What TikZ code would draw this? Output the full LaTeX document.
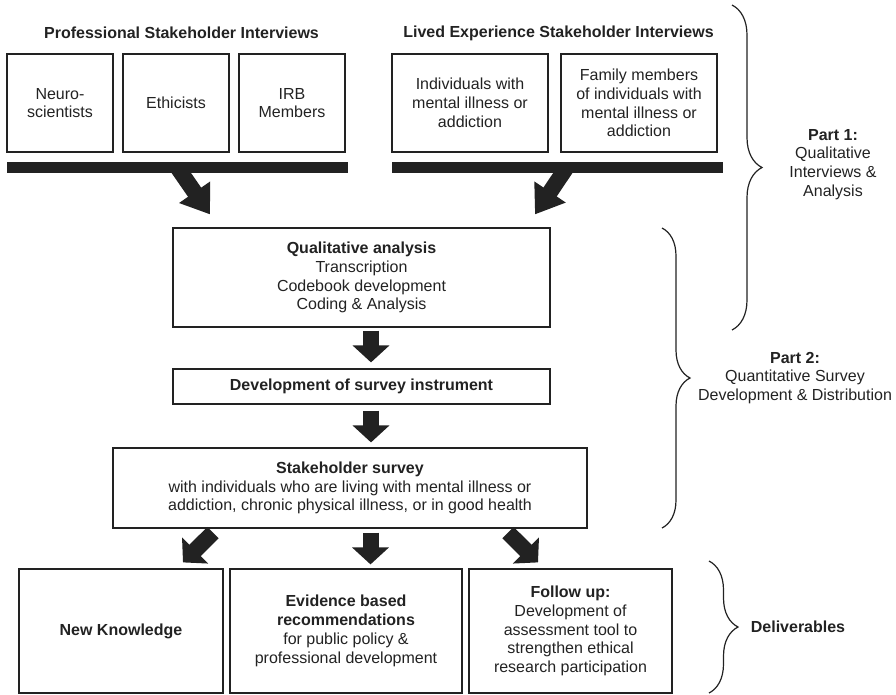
\documentclass[tikz,border=0pt]{standalone}
\usepackage{fontspec}
\setmainfont{Liberation Sans}
\usetikzlibrary{arrows.meta,decorations.pathreplacing}
\definecolor{ink}{HTML}{222222}

\begin{document}
\begin{tikzpicture}[x=1pt,y=-1pt,
		box/.style={draw=ink,line width=1.2pt,text=ink,align=center,inner sep=0pt,font=\fontsize{16}{18.8}\selectfont},
		label/.style={text=ink,align=center,inner sep=0pt,font=\fontsize{16}{18.8}\selectfont},
		bar/.style={fill=ink,inner sep=0pt,minimum height=11pt},
		fatarrow/.style={draw=ink,line width=16pt,-{Triangle[width=36pt,length=17pt]}},
		slantarrow/.style={draw=ink,line width=16pt,-{Triangle[width=36pt,length=27pt]}},
		partbrace/.style={draw=ink,line width=1.2pt,decorate,decoration={brace,amplitude=#1}}]
		\useasboundingbox (0,0) rectangle (896,694);
		
		\node[label,font=\fontsize{16}{18.8}\selectfont\bfseries] (protitle) at (181.5,33) {Professional Stakeholder Interviews};
		\node[label,font=\fontsize{16}{18.8}\selectfont\bfseries] (livtitle) at (558.5,33) {Lived Experience Stakeholder Interviews};
		\foreach \nm/\cx/\txt in {neuro/60/{Neuro-\\scientists}, ethic/176/{Ethicists}, irb/292/{IRB\\Members}}
			\node[box,minimum width=106pt,minimum height=98pt] (\nm) at (\cx,103) {\txt};
		\node[box,minimum width=156pt,minimum height=98pt] (indiv) at (470,103) {Individuals with\\mental illness or\\addiction};
		\node[box,minimum width=156pt,minimum height=98pt] (family) at (639,103) {Family members\\of individuals with\\mental illness or\\addiction};
		\node[bar,minimum width=341pt] (barP) at (177.5,167.5) {};
		\node[bar,minimum width=331pt] (barL) at (557.5,167.5) {};
		
		\node[box,minimum width=377pt,minimum height=99pt] (qual) at (361.5,277.5) {\textbf{Qualitative analysis}\\Transcription\\Codebook development\\Coding \& Analysis};
		\node[box,minimum width=377pt,minimum height=35pt] (instr) at (361.5,386.5) {\textbf{Development of survey instrument}};
		\node[box,minimum width=474pt,minimum height=80pt] (survey) at (350,488) {\textbf{Stakeholder survey}\\with individuals who are living with mental illness or\\addiction, chronic physical illness, or in good health};
		
		\node[box,minimum width=204pt,minimum height=124pt] (know) at (121,631) {\textbf{New Knowledge}};
		\node[box,minimum width=232pt,minimum height=124pt] (evid) at (346,631) {\textbf{Evidence based}\\\textbf{recommendations}\\for public policy \&\\professional development};
		\node[box,minimum width=203pt,minimum height=124pt] (follow) at (570.5,631) {\textbf{Follow up:}\\Development of\\assessment tool to\\strengthen ethical\\research participation};
		
		\draw[slantarrow] (barP.center) -- ([xshift=-151.5pt,yshift=13pt]qual.north);
		\draw[slantarrow] ([xshift=9pt]barL.center) -- ([xshift=173.5pt,yshift=13pt]qual.north);
		\draw[fatarrow] ([xshift=9.5pt,yshift=-3pt]qual.south) -- ([xshift=9.5pt,yshift=6pt]instr.north);
		\draw[fatarrow] ([xshift=9.5pt,yshift=-6pt]instr.south) -- ([xshift=21pt,yshift=5pt]survey.north);
		\draw[fatarrow] ([xshift=-137pt,yshift=-4pt]survey.south) -- ([xshift=62pt,yshift=6pt]know.north);
		\draw[fatarrow] ([xshift=20.5pt,yshift=-4pt]survey.south) -- ([xshift=24.5pt,yshift=4pt]evid.north);
		\draw[fatarrow] ([xshift=158pt,yshift=-4pt]survey.south) -- ([xshift=-32.5pt,yshift=6pt]follow.north);
		
		\draw[partbrace=30pt] (732,5) -- (732,330) node[label,midway,xshift=101pt,yshift=3pt] (part1) {\textbf{Part 1:}\\Qualitative\\Interviews \&\\Analysis};
		\draw[partbrace=28pt] (662,228) -- (662,528) node[label,midway,xshift=133pt] (part2) {\textbf{Part 2:}\\Quantitative Survey\\Development \& Distribution};
		\draw[partbrace=29pt] (709,561) -- (709,693) node[label,midway,xshift=89pt] (deliv) {\textbf{Deliverables}};
	\end{tikzpicture}
\end{document}
